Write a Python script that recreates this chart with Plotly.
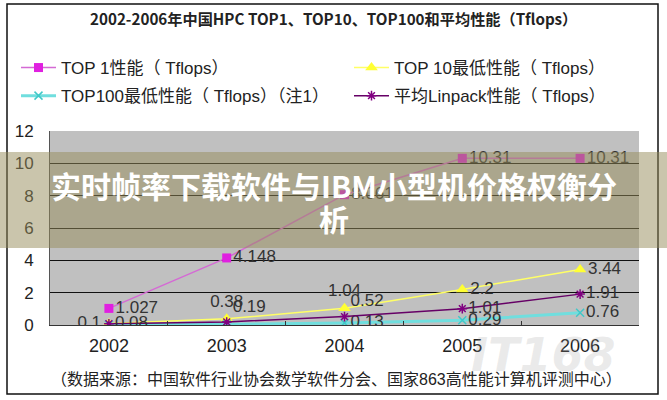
import plotly.graph_objects as go

years = ["2002", "2003", "2004", "2005", "2006"]
top1 = [1.027, 4.148, 8.061, 10.31, 10.31]
top10 = [0.1, 0.38, 1.04, 2.2, 3.44]
top100 = [0.01, 0.04, 0.13, 0.29, 0.76]
avg_linpack = [0.08, 0.19, 0.52, 1.01, 1.91]

names = ["TOP 1性能（ Tflops）", "TOP 10最低性能（ Tflops）",
         "TOP100最低性能（ Tflops）（注1）", "平均Linpack性能（ Tflops）"]
title_text = "2002-2006年中国HPC TOP1、TOP10、TOP100和平均性能（Tflops）"
source_text = "（数据来源：中国软件行业协会数学软件分会、国家863高性能计算机评测中心）"
banner_line1 = "实时帧率下载软件与IBM小型机价格权衡分"
banner_line2 = "析"

W, H = 667, 400
L, R, T, B = 50, 28, 131, 75
PW, PH = W - L - R, H - T - B


def px(x):
    return (x - L) / PW


def py(y):
    return (H - B - y) / PH


FONT = "Noto Sans CJK SC"
MIX = "Liberation Sans, Noto Sans CJK SC"
lab_font = dict(family="Liberation Sans", size=17, color="#333333")

fig = go.Figure()
fig.add_trace(go.Scatter(
    x=years, y=top1, name=names[0], mode="lines+markers+text",
    legend="legend", legendgroup="a",
    line=dict(color="#d46ad4", width=1.5),
    marker=dict(symbol="square", size=9, color="#e020e0"),
    text=[str(v) for v in top1], textposition="middle right",
    textfont=lab_font))
fig.add_trace(go.Scatter(
    x=years, y=top10, name=names[1], mode="lines+markers+text",
    legend="legend2", legendgroup="b",
    line=dict(color="#ffff66", width=1.5),
    marker=dict(symbol="triangle-up", size=11, color="#ffff33"),
    text=[str(v) for v in top10],
    textposition=["middle left", "top center", "top center", "middle right", "middle right"],
    textfont=lab_font))
fig.add_trace(go.Scatter(
    x=years, y=top100, name=names[2], mode="lines+markers+text",
    legend="legend", legendgroup="c",
    line=dict(color="#70dede", width=3),
    marker=dict(symbol="x-thin", size=8, color="#40c8c8",
                line=dict(color="#40c8c8", width=1.5)),
    text=[str(v) for v in top100],
    textposition=["bottom right", "bottom center", "middle right", "middle right", "middle right"],
    textfont=lab_font))
fig.add_trace(go.Scatter(
    x=years, y=avg_linpack, name=names[3], mode="lines+markers+text",
    legend="legend2", legendgroup="d",
    line=dict(color="#660066", width=1.5),
    marker=dict(symbol="asterisk", size=8, color="#800080",
                line=dict(color="#800080", width=1.5)),
    text=[str(v) for v in avg_linpack],
    textposition=["middle right", "top right", "top right", "middle right", "middle right"],
    textfont=lab_font))

shapes = [
    # outer frame
    dict(type="rect", xref="paper", yref="paper",
         x0=px(7), x1=px(658), y0=py(394), y1=py(4),
         line=dict(color="#111111", width=1.5), layer="below"),
    # watermark banner
    dict(type="rect", xref="paper", yref="paper",
         x0=px(0), x1=px(W), y0=py(248), y1=py(152),
         fillcolor="rgba(150,140,90,0.5)", line=dict(width=0), layer="above"),
]


def note(text, x, y, font):
    return dict(text=text, xref="paper", yref="paper", x=px(x), y=py(y),
                xanchor="center", yanchor="middle", showarrow=False, font=font)


annotations = [
    note("<b>" + title_text + "</b>", 333, 18,
         dict(family=FONT, size=15.2, color="#222222")),
    note(source_text, 336, 379, dict(family=MIX, size=16, color="#222222")),
    note("<i><b>IT168</b></i>", 543, 355,
         dict(family="DejaVu Sans", size=46, color="rgba(160,160,160,0.22)")),
    note("<b>" + banner_line1 + "</b>", 333.5, 185,
         dict(family=FONT, size=30, color="white")),
    note("<b>" + banner_line2 + "</b>", 333.5, 218,
         dict(family=FONT, size=30, color="white")),
]

leg_common = dict(orientation="v", yanchor="top", xanchor="left",
                  itemwidth=35, tracegroupgap=3, traceorder="grouped",
                  font=dict(family=MIX, size=17, color="#222222"),
                  bgcolor="rgba(0,0,0,0)")

fig.update_layout(
    width=W, height=H,
    margin=dict(l=L, r=R, t=T, b=B, autoexpand=False),
    paper_bgcolor="white", plot_bgcolor="#c0c0c0",
    font=dict(family=MIX, color="#222222"),
    showlegend=True,
    legend=dict(x=px(16), y=py(50), **leg_common),
    legend2=dict(x=px(349), y=py(50), **leg_common),
    shapes=shapes, annotations=annotations,
    xaxis=dict(type="category", range=[-0.5, 4.5], showgrid=False,
               showline=True, linecolor="#333333", linewidth=1,
               ticks="inside", tickson="boundaries", ticklen=4, tickcolor="#333333",
               tickfont=dict(family="Liberation Sans", size=18, color="#222222"),
               ticklabelstandoff=4, zeroline=False),
    yaxis=dict(range=[0, 12], dtick=2, showgrid=True, gridcolor="#111111", gridwidth=1,
               showline=True, linecolor="#555555", zeroline=True, zerolinecolor="#111111",
               tickfont=dict(family="Liberation Sans", size=17, color="#222222"),
               ticklabelstandoff=12),
)

fig.write_html("out.html", config={"displayModeBar": False},
               post_script="document.body.style.margin='0';document.body.style.overflow='hidden';")
